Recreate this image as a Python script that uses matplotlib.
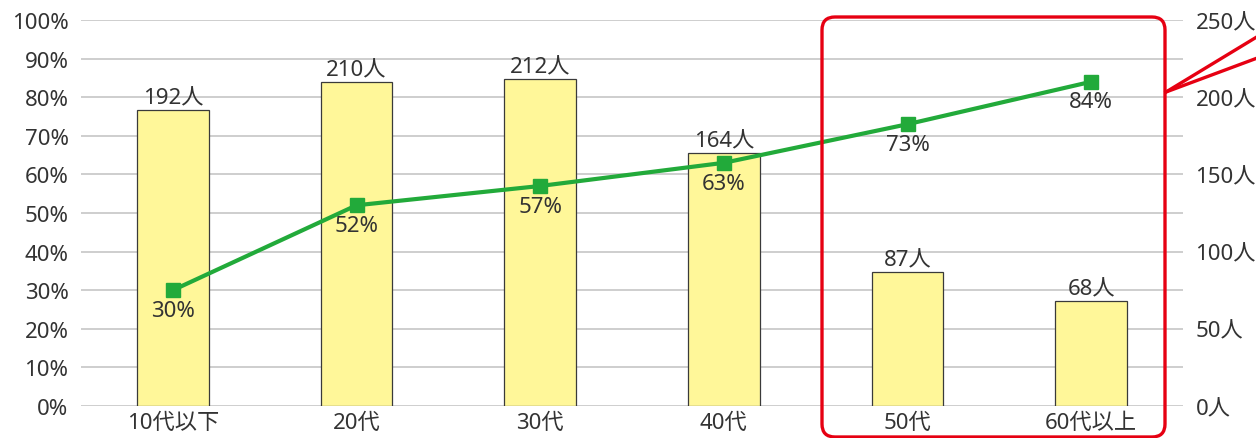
import matplotlib
matplotlib.use("Agg")
import matplotlib.pyplot as plt
from matplotlib.patches import FancyBboxPatch
from matplotlib.lines import Line2D
from matplotlib.ticker import MultipleLocator

plt.rcParams['font.family'] = ['Noto Sans', 'Noto Sans CJK JP', 'DejaVu Sans']

categories = ["10代以下", "20代", "30代", "40代", "50代", "60代以上"]
people = [192, 210, 212, 164, 87, 68]
rates = [30, 52, 57, 63, 73, 84]
pct_ticks = list(range(0, 101, 10))
people_ticks = list(range(0, 251, 50))

text_color = "#333333"
bar_color = "#FFF799"
green = "#22AA3A"
red = "#E60012"
grid_color = "#CACACA"
fs = 16

W, H = 12.56, 4.39
fig = plt.figure(figsize=(W, H), dpi=100)
ax1 = fig.add_axes([81 / 1256, 32 / 439, (1183 - 81) / 1256, (407 - 21) / 439])
ax2 = ax1.twinx()

x = list(range(len(categories)))

# people bars on right axis
ax2.set_ylim(0, 250)
ax2.yaxis.set_major_locator(MultipleLocator(50))
ax2.yaxis.set_minor_locator(MultipleLocator(25))
ax2.grid(True, which="both", axis="y", color=grid_color, linewidth=1.3)
ax2.set_axisbelow(True)
bars = ax2.bar(x, people, width=0.39, color=bar_color, edgecolor="#3a3a3a", linewidth=0.9, zorder=2)
for xi, v in zip(x, people):
    ax2.annotate(f"{v}人", (xi, v), xytext=(0, 1), textcoords="offset points",
                 ha="center", va="bottom", fontsize=fs, color=text_color, zorder=5)
ax2.set_yticks(people_ticks)
ax2.set_yticklabels([f"{t}人" for t in people_ticks])
ax2.tick_params(axis="y", which="both", length=0, pad=9, labelsize=fs, labelcolor=text_color)

# rate line on left axis
ax1.set_zorder(ax2.get_zorder() + 1)
ax1.patch.set_visible(False)
ax1.set_ylim(0, 100)
ax1.set_xlim(-0.5, len(categories) - 0.5)
ax1.plot(x, rates, color=green, linewidth=3, marker="s", markersize=10, zorder=4)
for xi, v in zip(x, rates):
    ax1.annotate(f"{v}%", (xi, v), xytext=(0, -7), textcoords="offset points",
                 ha="center", va="top", fontsize=fs, color=text_color, zorder=5)
ax1.set_yticks(pct_ticks)
ax1.set_yticklabels([f"{t}%" for t in pct_ticks])
ax1.set_xticks(x)
ax1.set_xticklabels(categories)
ax1.tick_params(axis="y", length=0, pad=9, labelsize=fs, labelcolor=text_color)
ax1.tick_params(axis="x", length=0, pad=4, labelsize=fs, labelcolor=text_color)

for ax in (ax1, ax2):
    for s in ax.spines.values():
        s.set_visible(False)

# red highlight box and callout lines
box = FancyBboxPatch((8.22, 0.01), 3.43, 4.20,
                     boxstyle="round,pad=0,rounding_size=0.13",
                     transform=fig.dpi_scale_trans, fill=False,
                     edgecolor=red, linewidth=2.4, clip_on=False, zorder=10)
fig.add_artist(box)
for y_end in (4.03, 3.81):
    fig.add_artist(Line2D([11.66, 12.6], [3.46, y_end], transform=fig.dpi_scale_trans,
                          color=red, linewidth=2.4, clip_on=False, zorder=10))

fig.savefig("out.png", dpi=100)
